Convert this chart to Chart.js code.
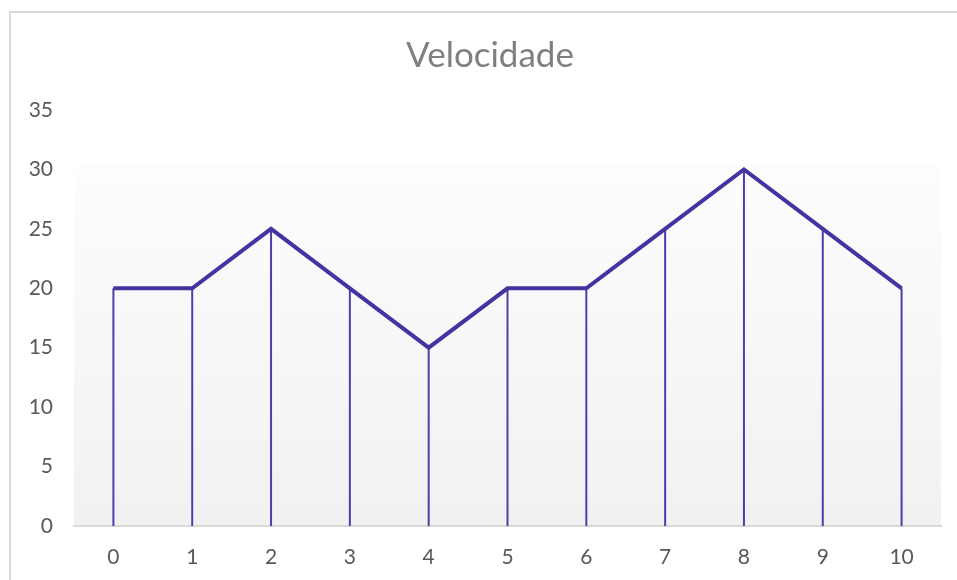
<!DOCTYPE html>
<html>
<head>
<meta charset="utf-8">
<script src="https://cdn.jsdelivr.net/npm/chart.js@4/dist/chart.umd.min.js"></script>
<style>
  html, body { margin: 0; padding: 0; background: #ffffff; }
  #wrap { width: 957px; height: 580px; position: relative; }
</style>
</head>
<body>
<div id="wrap"><canvas id="c" width="957" height="580"></canvas></div>
<script>
// Tempo (categorias) e velocidade medida em cada instante
const tempos = ['0', '1', '2', '3', '4', '5', '6', '7', '8', '9', '10'];
const velocidade = [20, 20, 25, 20, 15, 20, 20, 25, 30, 25, 20];
const eixoY = { min: 0, max: 35, passo: 5 };
const titulo = 'Velocidade';

const corLinha = 'rgb(68, 52, 162)';
const corTexto = '#595959';
const fonte = 'Lato, "Open Sans", sans-serif';

// Moldura do gráfico, título centrado na moldura e fundo em degradê da área de plotagem
const fundo = {
  id: 'fundo',
  beforeDraw(chart) {
    const { ctx, chartArea: a } = chart;
    ctx.save();
    ctx.strokeStyle = '#d9d9d9';
    ctx.lineWidth = 2;
    ctx.beginPath();
    ctx.moveTo(10, 600);
    ctx.lineTo(10, 12);
    ctx.lineTo(980, 12);
    ctx.stroke();

    const topo = a.top + (a.bottom - a.top) * 0.132;
    const g = ctx.createLinearGradient(0, topo, 0, a.bottom);
    g.addColorStop(0, '#fdfdfd');
    g.addColorStop(1, '#f1f1f1');
    ctx.fillStyle = g;
    ctx.fillRect(a.left, topo, a.right - a.left, a.bottom - topo);

    ctx.fillStyle = '#808080';
    ctx.font = '35px ' + fonte;
    ctx.textAlign = 'center';
    ctx.textBaseline = 'alphabetic';
    ctx.fillText(titulo, 490, 67);
    ctx.restore();
  }
};

// Linhas verticais de cada ponto até o eixo horizontal
const linhasQueda = {
  id: 'linhasQueda',
  beforeDatasetsDraw(chart) {
    const { ctx } = chart;
    const meta = chart.getDatasetMeta(0);
    const base = chart.scales.y.getPixelForValue(0);
    ctx.save();
    ctx.strokeStyle = 'rgb(78, 62, 172)';
    ctx.lineWidth = 2;
    meta.data.forEach(p => {
      ctx.beginPath();
      ctx.moveTo(p.x, p.y);
      ctx.lineTo(p.x, base);
      ctx.stroke();
    });
    ctx.restore();
  }
};

new Chart(document.getElementById('c'), {
  type: 'line',
  data: {
    labels: tempos,
    datasets: [{
      label: titulo,
      data: velocidade,
      borderColor: corLinha,
      borderWidth: 4,
      borderJoinStyle: 'miter',
      pointRadius: 0,
      tension: 0,
      fill: false
    }]
  },
  options: {
    responsive: false,
    animation: false,
    layout: { padding: { left: 0, right: 16, top: 110, bottom: 0 } },
    plugins: {
      legend: { display: false },
      tooltip: { enabled: false },
      title: { display: false }
    },
    scales: {
      x: {
        offset: true,
        grid: { display: false, drawTicks: false },
        border: { display: true, color: '#d9d9d9', width: 2 },
        ticks: {
          color: corTexto,
          font: { family: fonte, size: 21 },
          padding: 19,
          maxRotation: 0
        },
        afterFit(s) { s.height = 54; }
      },
      y: {
        min: eixoY.min,
        max: eixoY.max,
        grid: { display: false, drawTicks: false },
        border: { display: false },
        ticks: {
          stepSize: eixoY.passo,
          color: corTexto,
          font: { family: fonte, size: 21 },
          padding: 21
        },
        afterFit(s) { s.width = 74; }
      }
    }
  },
  plugins: [fundo, linhasQueda]
});
</script>
</body>
</html>
